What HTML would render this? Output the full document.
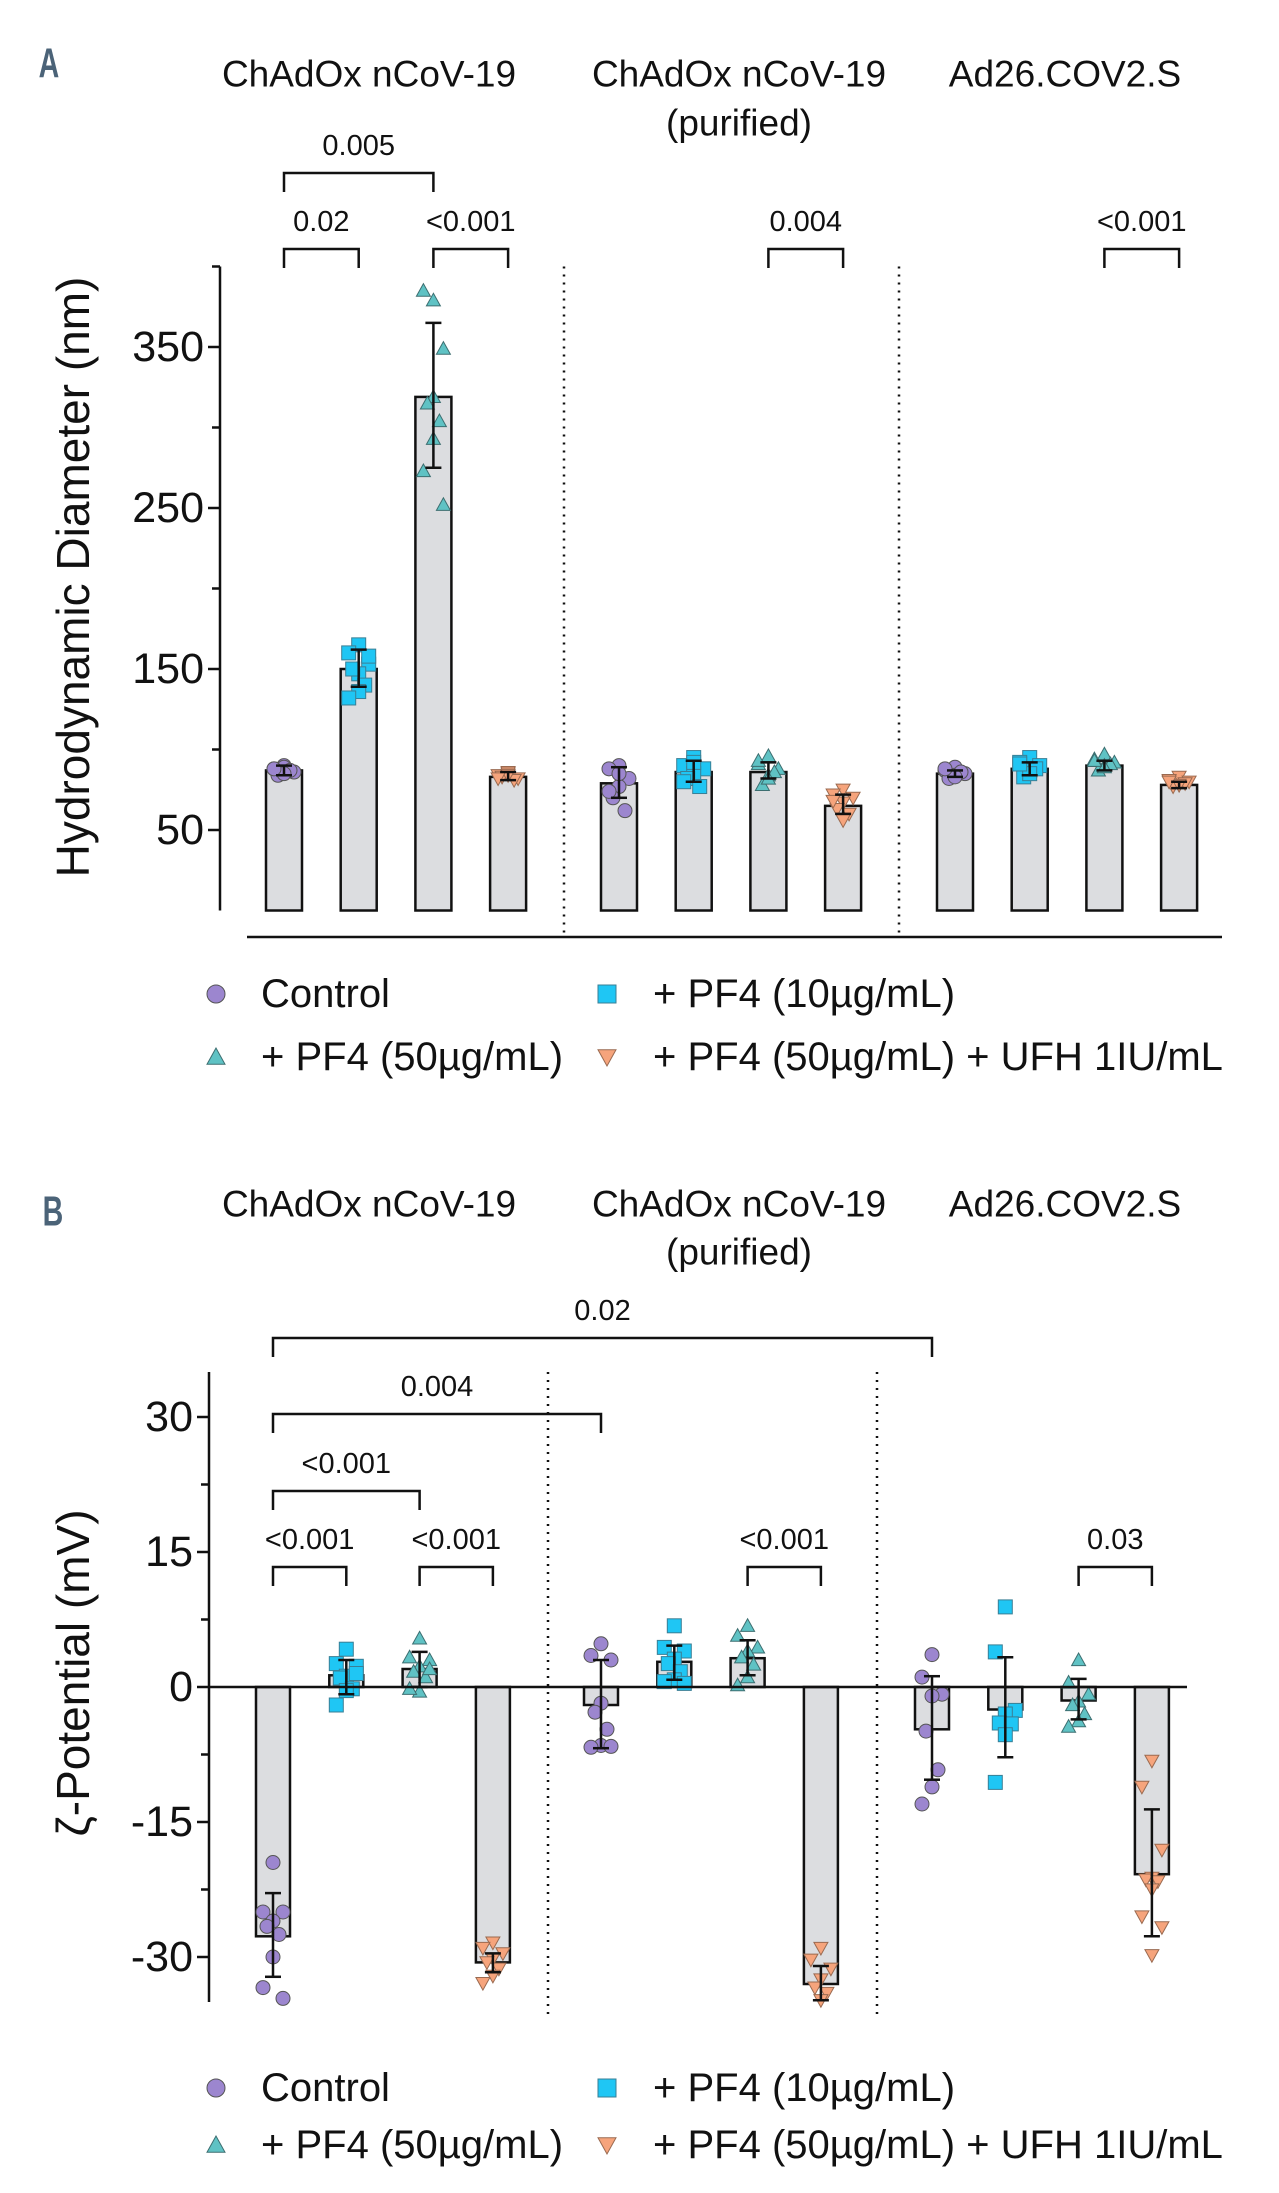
<!DOCTYPE html>
<html><head><meta charset="utf-8"><style>
html,body{margin:0;padding:0;background:#fff}
svg{display:block;font-family:"Liberation Sans",Arial,sans-serif}
</style></head><body>
<svg id="fig" xmlns="http://www.w3.org/2000/svg" width="1279" height="2193" viewBox="0 0 1279 2193"></svg>
<script>
// ---------- Data ----------
const groupTitles = ["ChAdOx nCoV-19", "ChAdOx nCoV-19", "Ad26.COV2.S"];
const seriesNames = ["Control", "+ PF4 (10µg/mL)", "+ PF4 (50µg/mL)", "+ PF4 (50µg/mL) + UFH 1IU/mL"];
// Panel A: hydrodynamic diameter (nm)
const aTicks = [50, 150, 250, 350];
const aMinorTicks = [100, 200, 300, 400];
const aMeans = [87, 150, 319, 83, 79, 86, 86, 65, 85, 88, 90, 78];
const aErrHi = [90, 162, 365, 86, 89, 93, 92, 72, 87, 92, 93, 80];
const aErrLo = [84, 139, 275, 81, 70, 80, 82, 60, 83, 84, 87, 76];
const aPoints = [
 [90, 88, 86, 89, 84, 87, 85, 88],
 [165, 160, 153, 147, 150, 140, 136, 132, 158],
 [379, 385, 349, 319, 315, 304, 293, 273, 252],
 [86, 84, 82, 85, 83, 81, 84, 82],
 [90, 88, 82, 77, 70, 62, 85, 74],
 [95, 90, 88, 85, 82, 77, 92, 80],
 [96, 91, 88, 84, 78, 86, 82, 93],
 [75, 72, 70, 67, 63, 60, 56, 68],
 [89, 87, 85, 84, 82, 86, 83, 88],
 [95, 92, 90, 87, 83, 88, 85, 91],
 [97, 94, 92, 90, 87, 91, 89, 93],
 [83, 81, 80, 78, 77, 79, 78, 80]
];
const aBrackets = [[0, 2, "0.005", 0], [0, 1, "0.02", 1], [2, 3, "<0.001", 1], [6, 7, "0.004", 1], [10, 11, "<0.001", 1]];
// Panel B: zeta potential (mV)
const bTicks = [-30, -15, 0, 15, 30];
const bMinorTicks = [-22.5, -7.5, 7.5, 22.5];
const bMeans = [-27.7, 1.3, 2.0, -30.6, -2.0, 2.8, 3.2, -33.0, -4.7, -2.5, -1.5, -20.8];
const bErrHi = [-22.9, 3.0, 3.9, -29.6, 3.0, 4.6, 5.2, -31.0, 1.2, 3.3, 0.9, -13.6];
const bErrLo = [-32.2, -0.8, 0.0, -31.7, -6.8, 0.8, 1.3, -34.8, -10.3, -7.8, -3.6, -27.7];
const bPoints = [
 [-19.5, -25, -25, -26, -26.6, -27.5, -30, -33.4, -34.6],
 [4.2, 2.6, 2.3, 1.2, 1.0, -0.2, -0.4, -2.0, 1.5],
 [5.4, 3.3, 3.0, 2.3, 1.7, 1.1, -0.5, -0.2, 2.0],
 [-28.4, -29.0, -29.6, -30.2, -30.6, -31.3, -32.1, -32.9],
 [4.8, 3.5, 3.0, -1.8, -2.8, -4.7, -6.5, -6.7, -6.6],
 [6.8, 4.4, 4.0, 3.1, 2.6, 1.7, 0.8, 0.6, 0.4],
 [6.8, 5.7, 4.4, 4.0, 3.3, 2.5, 1.1, 0.2],
 [-29.0, -30.3, -31.3, -32.5, -33.4, -34.0, -34.8],
 [3.6, 1.1, -0.8, -1.0, -4.9, -9.2, -11.1, -13.0],
 [8.9, 3.9, -2.6, -3.0, -4.0, -4.1, -5.3, -10.6],
 [3.0, 0.5, -0.8, -1.6, -2.0, -3.0, -3.8, -4.4],
 [-8.2, -11.1, -18.1, -21.2, -21.4, -21.6, -22.5, -25.5, -26.7, -29.8]
];
const bBrackets = [[0, 8, "0.02", 0], [0, 4, "0.004", 1], [0, 2, "<0.001", 2], [0, 1, "<0.001", 3], [2, 3, "<0.001", 3], [6, 7, "<0.001", 3], [10, 11, "0.03", 3]];

// ---------- Rendering ----------
const NS = "http://www.w3.org/2000/svg";
const svg = document.getElementById("fig");
const colors = ["#9c86cf", "#1fc6f4", "#5fc2c4", "#f6a47c"];
function mk(tag, attrs, parent) {
  const e = document.createElementNS(NS, tag);
  for (const k in attrs) e.setAttribute(k, attrs[k]);
  (parent || svg).appendChild(e);
  return e;
}
function txt(s, x, y, size, anchor, parent, extra) {
  const t = mk("text", Object.assign({x: x, y: y, "font-size": size, "text-anchor": anchor || "middle", "dominant-baseline": "central", fill: "#111"}, extra || {}), parent);
  t.textContent = s;
  return t;
}
const jitter = [0, -10, 10, 0, -6, 6, 0, -10, 10, 0];
function marker(type, x, y, g, s) {
  s = s || 7;
  let e;
  if (type === 0) e = mk("circle", {cx: x, cy: y, r: s, fill: colors[0], stroke: "#555", "stroke-width": 1}, g);
  else if (type === 1) e = mk("rect", {x: x - s, y: y - s, width: 2 * s, height: 2 * s, fill: colors[1], stroke: "#3a7f95", "stroke-width": 1}, g);
  else if (type === 2) e = mk("polygon", {points: `${x},${y - s} ${x - s},${y + s * 0.8} ${x + s},${y + s * 0.8}`, fill: colors[2], stroke: "#3c6e70", "stroke-width": 1}, g);
  else e = mk("polygon", {points: `${x},${y + s} ${x - s},${y - s * 0.8} ${x + s},${y - s * 0.8}`, fill: colors[3], stroke: "#9a6a50", "stroke-width": 1}, g);
  return e;
}

function panel(cfg) {
  const g = mk("g", {});
  
  
  const y = v => cfg.y0 - (v - cfg.v0) * cfg.k;
  const xc = i => cfg.xs[Math.floor(i / 4)] + (i % 4) * cfg.step;
  const L = txt(cfg.letter, cfg.letterX, cfg.letterY, 42, "middle", g, {"font-weight": "bold", fill: "#4b6378", transform: `translate(${cfg.letterX},0) scale(0.68,1) translate(${-cfg.letterX},0)`});
  
  
  const tx = [369, 739, 1065];
  groupTitles.forEach((t, i) => {
    const e = txt(t, tx[i], cfg.titleY, 37, "middle", g);
    
    
  });
  const p = txt("(purified)", 739, cfg.titleY2, 37, "middle", g);
  
  
  const ax = mk("line", {x1: cfg.axX, x2: cfg.axX, y1: y(cfg.vmax), y2: y(cfg.vmin), stroke: "#111", "stroke-width": 2.5}, g);
  
  
  cfg.ticks.forEach(v => {
    mk("line", {x1: cfg.axX - 12, x2: cfg.axX, y1: y(v), y2: y(v), stroke: "#111", "stroke-width": 2.5}, g);
    const t = txt(String(v), cfg.axX - 16, y(v), 43, "end", g);
    
    
  });
  cfg.minor.forEach(v => mk("line", {x1: cfg.axX - 8, x2: cfg.axX, y1: y(v), y2: y(v), stroke: "#111", "stroke-width": 2.5}, g));
  const yt = txt(cfg.ytitle, 73, cfg.ytitleY, 46, "middle", g, {transform: `rotate(-90 73 ${cfg.ytitleY})`});
  
  
  cfg.dots.forEach(dx => {
    const d = mk("line", {x1: dx, x2: dx, y1: y(cfg.vmax), y2: cfg.dotBottom, stroke: "#111", "stroke-width": 2.5, "stroke-dasharray": "2 6"}, g);
    
    
  });
  cfg.means.forEach((m, i) => {
    const x = xc(i), w = cfg.bw;
    const top = Math.min(y(m), y(0)), h = Math.abs(y(m) - y(0));
    const r = mk("rect", {x: x - w / 2, y: top, width: w, height: h, fill: "#dcdde0", stroke: "#111", "stroke-width": 2.5}, g);
    
    
  });
  cfg.points.forEach((arr, i) => {
    arr.forEach((v, j) => {
      const m = marker(i % 4, xc(i) + jitter[j % jitter.length], y(v), g);
      
      
    });
  });
  cfg.means.forEach((m, i) => {
    const x = xc(i);
    const eg = mk("g", {stroke: "#111", "stroke-width": 2.5}, g);
    
    
    mk("line", {x1: x, x2: x, y1: y(cfg.hi[i]), y2: y(cfg.lo[i])}, eg);
    mk("line", {x1: x - 8, x2: x + 8, y1: y(cfg.hi[i]), y2: y(cfg.hi[i])}, eg);
    mk("line", {x1: x - 8, x2: x + 8, y1: y(cfg.lo[i]), y2: y(cfg.lo[i])}, eg);
  });
  const bl = mk("line", cfg.baseLine, g);
  
  
  cfg.brackets.forEach(b => {
    const by = cfg.brY[b[3]];
    const x1 = xc(b[0]), x2 = xc(b[1]);
    const bg = mk("g", {}, g);
    
    
    mk("path", {d: `M${x1},${by + 19} V${by} H${x2} V${by + 19}`, fill: "none", stroke: "#111", "stroke-width": 2.5}, bg);
    txt(b[2], (x1 + x2) / 2, by - 27, 29, "middle", bg);
  });
  const lg = mk("g", {}, g);
  
  
  const lx = [216, 607, 216, 607], tx2 = [261, 653, 261, 653];
  const ly = [cfg.legY[0], cfg.legY[0], cfg.legY[1], cfg.legY[1]];
  [0, 1, 2, 3].forEach((s, k) => {
    const eg = mk("g", {}, lg);
    
    
    marker(s, lx[k], ly[k], eg, 9);
    txt(seriesNames[s], tx2[k], ly[k], 40, "start", eg);
  });
}

panel({name: "panel-a-hydrodynamic-diameter", letter: "A", letterX: 49, letterY: 63,
  titleY: 74, titleY2: 123, y0: 910.5, v0: 0, k: 1.61, vmin: 0, vmax: 400,
  axX: 220, xs: [284, 619, 955], step: 74.7, bw: 36,
  ticks: aTicks, minor: aMinorTicks, ytitle: "Hydrodynamic Diameter (nm)", ytitleY: 577,
  dots: [564, 899], dotBottom: 937,
  means: aMeans, hi: aErrHi, lo: aErrLo, points: aPoints,
  baseLine: {x1: 247, x2: 1222, y1: 937, y2: 937, stroke: "#111", "stroke-width": 2.5},
  brackets: aBrackets, brY: [173, 249], legY: [994, 1057]});

panel({name: "panel-b-zeta-potential", letter: "B", letterX: 53, letterY: 1211,
  titleY: 1204, titleY2: 1252, y0: 1687, v0: 0, k: 9.0, vmin: -35, vmax: 35,
  axX: 209, xs: [273, 601, 932], step: 73.3, bw: 34,
  ticks: bTicks, minor: bMinorTicks, ytitle: "ζ-Potential (mV)", ytitleY: 1673,
  dots: [548, 877], dotBottom: 2018,
  means: bMeans, hi: bErrHi, lo: bErrLo, points: bPoints,
  baseLine: {x1: 209, x2: 1187, y1: 1687, y2: 1687, stroke: "#111", "stroke-width": 2.5},
  brackets: bBrackets, brY: [1338, 1414, 1491, 1567], legY: [2088, 2145]});
</script>
</body></html>
